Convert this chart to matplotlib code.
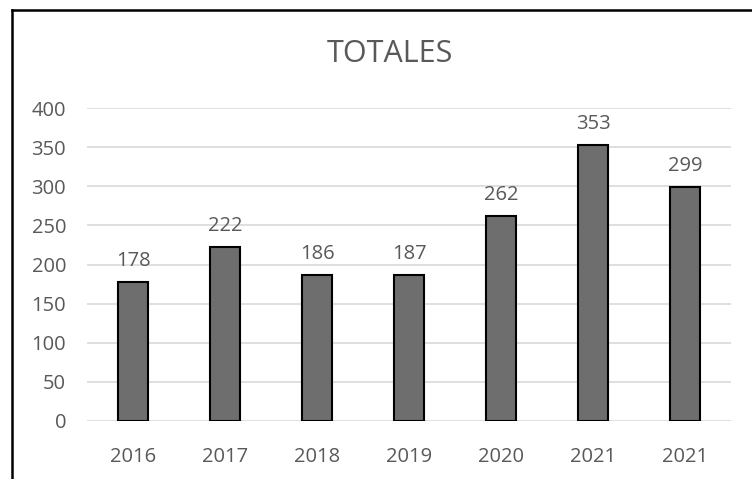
import matplotlib.pyplot as plt
from matplotlib.lines import Line2D

# datos del gráfico
anios = ["2016", "2017", "2018", "2019", "2020", "2021", "2021"]
totales = [178, 222, 186, 187, 262, 353, 299]
y_ticks = [0, 50, 100, 150, 200, 250, 300, 350, 400]

TEXT_COLOR = "#595959"
BAR_COLOR = "#6e6e6e"
GRID_COLOR = "#d9d9d9"

plt.rcParams['font.family'] = ['Open Sans', 'DejaVu Sans']

fig = plt.figure(figsize=(7.52, 4.79), dpi=100)
ax = fig.add_axes([87 / 752, 1 - 421 / 479, (731 - 87) / 752, (421 - 108) / 479])

x = list(range(len(anios)))
bars = ax.bar(x, totales, width=0.33, color=BAR_COLOR, edgecolor='black',
              linewidth=1.5, zorder=3)

for xi, v in zip(x, totales):
    ax.annotate(str(v), (xi, v), xytext=(0, 8), textcoords='offset points',
                ha='center', va='bottom', fontsize=14.5, color=TEXT_COLOR)

ax.set_xlim(-0.5, len(anios) - 0.5)
ax.set_ylim(0, 400)
ax.set_yticks(y_ticks)
ax.set_xticks(x)
ax.set_xticklabels(anios)
ax.tick_params(axis='both', length=0, labelsize=14.5, labelcolor=TEXT_COLOR)
ax.tick_params(axis='y', pad=15)
ax.tick_params(axis='x', pad=19)
ax.grid(axis='y', color=GRID_COLOR, linewidth=1.2, zorder=0)
for s in ax.spines.values():
    s.set_visible(False)

fig.text(0.5185, 1 - 54 / 479, "TOTALES", ha='center', va='center',
         fontsize=22, color=TEXT_COLOR)

# marco exterior (solo se ven el borde superior e izquierdo)
fig.add_artist(Line2D([11.5 / 752, 1.0], [1 - 10 / 479, 1 - 10 / 479],
                      transform=fig.transFigure, color='black', linewidth=1.8))
fig.add_artist(Line2D([11.5 / 752, 11.5 / 752], [1 - 10 / 479, 0.0],
                      transform=fig.transFigure, color='black', linewidth=1.8))

fig.savefig("out.png", dpi=100)
